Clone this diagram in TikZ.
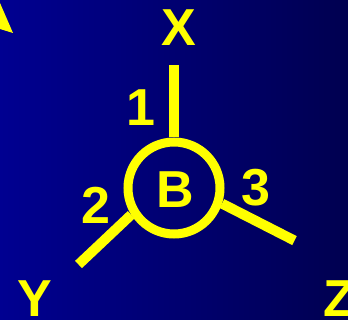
\documentclass[tikz,border=0pt]{standalone}
\usepackage{fontspec}
\setmainfont{Liberation Sans}
\begin{document}
\begin{tikzpicture}[x=1pt,y=-1pt,
  lbl/.style={inner sep=0pt,text=yel,font=\fontsize{52}{52}\selectfont\bfseries},
  bond/.style={draw=yel,line width=10pt}]
\definecolor{yel}{RGB}{255,255,0}
\definecolor{bgl}{RGB}{0,0,145}
\definecolor{bgr}{RGB}{0,0,80}
\useasboundingbox (0,0) rectangle (348,320);
\shade[left color=bgl,right color=bgr] (0,0) rectangle (348,320);
\fill[yel] (0,3) -- (13,33) -- (0,29) -- cycle;
\node[circle,draw=yel,line width=9pt,minimum size=92pt,inner sep=0pt] (B) at (174,188) {};
\node[lbl] (Bt) at (175.5,189.5) {B};
\coordinate (xend) at (174,65);
\coordinate (yend) at (78.5,264.5);
\coordinate (zend) at (294.5,240.6);
\draw[bond] (B.north) -- (xend);
\draw[bond] (B.212) -- (yend);
\draw[bond] (B.-18) -- (zend);
\node[lbl] (X) at (179,27.5) {X};
\node[lbl] (Y) at (35,299) {Y};
\node[lbl] (Z) at (339,299) {Z};
\node[lbl] (n1) at (141,108) {1};
\node[lbl] (n2) at (96,205) {2};
\node[lbl] (n3) at (256,188) {3};
\end{tikzpicture}
\end{document}
